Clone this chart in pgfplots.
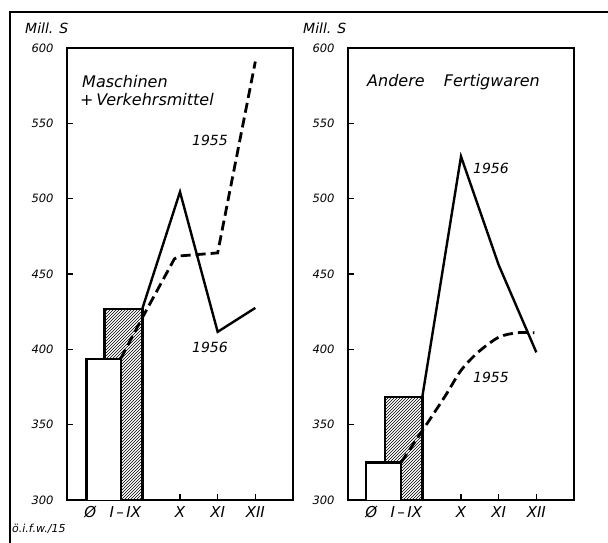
\documentclass[border=0pt]{standalone}
\usepackage{fontspec}
\setmainfont{DejaVu Sans}
\usepackage{pgfplots}
\pgfplotsset{compat=1.18}
\usetikzlibrary{patterns}
\tikzset{xlab/.style={anchor=north, inner sep=0.3333em, yshift=-3pt, font=\fontsize{15}{16}\selectfont\itshape}}

\begin{document}
\begin{tikzpicture}
\useasboundingbox (0pt,0pt) rectangle (608pt,543pt);
\draw[line width=1.6pt] (10pt,0pt) -- (10pt,531pt) -- (608pt,531pt);

\pgfplotsset{
 panel/.style={
  scale only axis, width=226pt, height=452pt,
  xmin=7, xmax=13, ymin=300, ymax=600,
  anchor=south west,
  axis line style={line width=1.2pt},
  ytick={300,350,...,600}, ytick pos=left, tick align=inside,
  xtick={10,11,12}, xticklabels={X,XI,XII}, xtick pos=bottom,
  major tick length=6pt,
  major tick style={draw=black, line width=1.2pt},
  /pgf/number format/assume math mode=true,
  yticklabel style={font=\fontsize{11.5}{12}\selectfont\itshape, xshift=-10pt},
  xticklabel style={font=\fontsize{15}{16}\selectfont\itshape, yshift=-3pt},
  clip=false,
 },
}

% Left panel
\begin{axis}[panel, at={(67pt,43pt)}]
\addplot[draw=black, line width=2.6pt, line join=miter, pattern=north east lines] coordinates {(8,300) (8,426.8) (9,426.8) (9,300)};
\addplot[draw=black, line width=2.6pt, line join=miter, fill=white] coordinates {(7.52,300) (7.52,393.6) (8.43,393.6) (8.43,300)};
\addplot[black, line width=2.8pt, dash pattern=on 10pt off 5pt] coordinates {(8.43,394) (9,421) (9.85,460) (10,462) (11,464) (12,591)};
\addplot[black, line width=2.4pt, line join=miter] coordinates {(9,427) (10,504.5) (11,411.6) (12,427.5)};
\node[xlab] at (axis cs:7.62,300) {Ø};
\node[xlab] at (axis cs:8.55,300) {I\,–\,IX};
\pgfplotsinvokeforeach{350,400,450,500,550}{\draw[line width=1.2pt] (axis cs:7,#1) -- ++(6pt,0pt);}
\pgfplotsinvokeforeach{10,11,12}{\draw[line width=1.2pt] (axis cs:#1,300) -- ++(0pt,6pt);}
\end{axis}

% Right panel
\begin{axis}[panel, at={(348pt,43pt)}]
\addplot[draw=black, line width=2.6pt, line join=miter, pattern=north east lines] coordinates {(7.98,300) (7.98,368.4) (8.97,368.4) (8.97,300)};
\addplot[draw=black, line width=2.6pt, line join=miter, fill=white] coordinates {(7.48,300) (7.48,325) (8.41,325) (8.41,300)};
\addplot[black, line width=2.8pt, dash pattern=on 10pt off 5pt, smooth] coordinates {(8.41,325) (9.0,347) (9.58,369) (10,386) (10.45,398) (11,408) (11.5,411) (11.95,411)};
\addplot[black, line width=2.4pt, line join=miter] coordinates {(8.97,368) (10,528) (11,456) (12,398)};
\node[xlab] at (axis cs:7.62,300) {Ø};
\node[xlab] at (axis cs:8.55,300) {I\,–\,IX};
\pgfplotsinvokeforeach{350,400,450,500,550}{\draw[line width=1.2pt] (axis cs:7,#1) -- ++(6pt,0pt);}
\pgfplotsinvokeforeach{10,11,12}{\draw[line width=1.2pt] (axis cs:#1,300) -- ++(0pt,6pt);}
\end{axis}

% Texts
\node[anchor=west, inner sep=0pt, font=\fontsize{14}{15}\selectfont\itshape] at (25pt,515pt) {Mill. S};
\node[anchor=west, inner sep=0pt, font=\fontsize{14}{15}\selectfont\itshape] at (303pt,515pt) {Mill. S};
\node[anchor=west, inner sep=0pt, font=\fontsize{16}{17}\selectfont\itshape] at (82pt,461pt) {Maschinen};
\node[anchor=west, inner sep=0pt, font=\fontsize{16}{17}\selectfont\itshape] at (80pt,443pt) {+\,Verkehrsmittel};
\node[inner sep=0pt, font=\fontsize{14}{15}\selectfont\itshape] at (210pt,403pt) {1955};
\node[inner sep=0pt, font=\fontsize{14}{15}\selectfont\itshape] at (210pt,196pt) {1956};
\node[anchor=west, inner sep=0pt, font=\fontsize{16}{17}\selectfont\itshape] at (367pt,461pt) {Andere\hspace{1.2em}Fertigwaren};
\node[inner sep=0pt, font=\fontsize{14}{15}\selectfont\itshape] at (491pt,375pt) {1956};
\node[inner sep=0pt, font=\fontsize{14}{15}\selectfont\itshape] at (491pt,166pt) {1955};
\node[anchor=west, inner sep=0pt, font=\fontsize{11}{12}\selectfont\itshape] at (12pt,14pt) {ö.i.f.w./15};
\end{tikzpicture}
\end{document}
